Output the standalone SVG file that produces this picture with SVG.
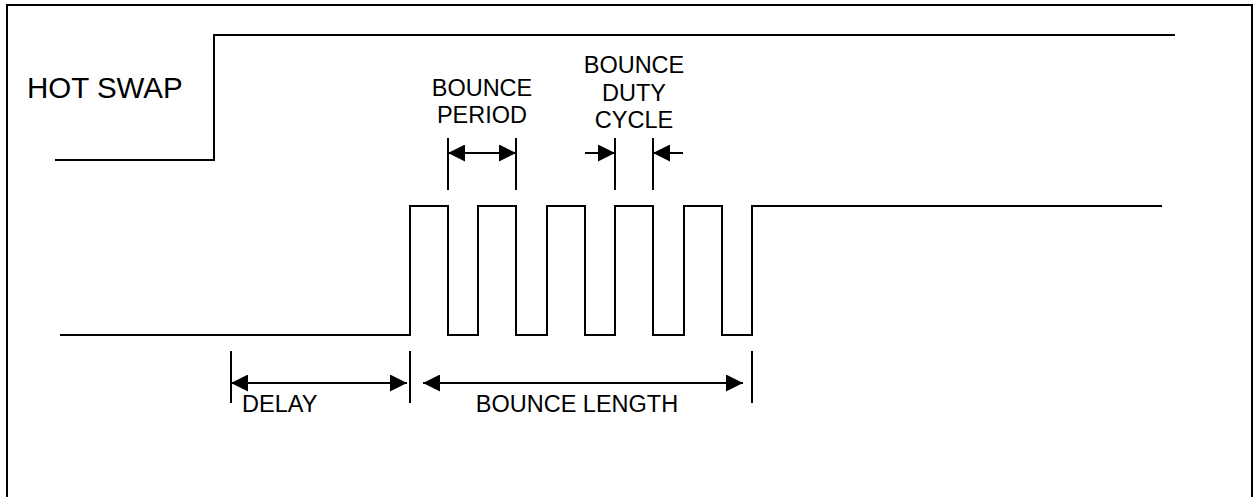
<svg xmlns="http://www.w3.org/2000/svg" width="1255" height="497" viewBox="0 0 1255 497">
  <style>
    .sig { fill: none; stroke: #000; stroke-width: 2; stroke-linejoin: miter; }
    .ext { fill: none; stroke: #000; stroke-width: 2; }
    .dim { fill: none; stroke: #000; stroke-width: 2; }
    .lbl { font-family: "Liberation Sans", Arial, sans-serif; font-size: 23.5px; fill: #000; }
    .big { font-family: "Liberation Sans", Arial, sans-serif; font-size: 29.5px; fill: #000; }
  </style>
  <defs>
    <marker id="ah" markerUnits="userSpaceOnUse" markerWidth="17" markerHeight="17" viewBox="0 0 16 16" refX="16" refY="8" orient="auto-start-reverse">
      <path d="M0,0 L16,8 L0,16 z" fill="#000"/>
    </marker>
  </defs>
  <rect x="0" y="0" width="1255" height="497" fill="#fff"/>
  <rect id="frame" x="7" y="5" width="1245" height="500" fill="none" stroke="#000" stroke-width="2"/>

  <g id="hot-swap">
    <path class="sig" d="M55,160 H214 V35 H1175"/>
    <text class="big" x="27" y="98">HOT SWAP</text>
  </g>

  <g id="bounce-signal">
    <path class="sig" d="M60,335 H410 V206 H448 V335 H478 V206 H516 V335 H547 V206 H585 V335 H615 V206 H653 V335 H684 V206 H722 V335 H752 V206 H1162"/>
  </g>

  <g id="bounce-period">
    <text class="lbl" x="482" y="96" text-anchor="middle">BOUNCE</text>
    <text class="lbl" x="482" y="123" text-anchor="middle">PERIOD</text>
  </g>

  <g id="bounce-duty-cycle">
    <text class="lbl" x="634" y="73" text-anchor="middle">BOUNCE</text>
    <text class="lbl" x="634" y="101" text-anchor="middle">DUTY</text>
    <text class="lbl" x="634" y="128" text-anchor="middle">CYCLE</text>
  </g>

  <g id="delay">
    <text class="lbl" x="242" y="412">DELAY</text>
  </g>

  <g id="bounce-length">
    <text class="lbl" x="577" y="412" text-anchor="middle">BOUNCE LENGTH</text>
  </g>

  <g id="connectors">
    <line class="ext" x1="448" y1="138" x2="448" y2="190"/>
    <line class="ext" x1="516" y1="138" x2="516" y2="190"/>
    <line class="dim" x1="448" y1="153" x2="516" y2="153" marker-start="url(#ah)" marker-end="url(#ah)"/>

    <line class="ext" x1="615" y1="138" x2="615" y2="190"/>
    <line class="ext" x1="653" y1="138" x2="653" y2="190"/>
    <line class="dim" x1="585" y1="153" x2="615" y2="153" marker-end="url(#ah)"/>
    <line class="dim" x1="683" y1="153" x2="653" y2="153" marker-end="url(#ah)"/>

    <line class="ext" x1="231" y1="351" x2="231" y2="403"/>
    <line class="ext" x1="410" y1="351" x2="410" y2="403"/>
    <line class="ext" x1="752" y1="351" x2="752" y2="403"/>
    <line class="dim" x1="231" y1="383" x2="407" y2="383" marker-start="url(#ah)" marker-end="url(#ah)"/>
    <line class="dim" x1="423" y1="383" x2="743" y2="383" marker-start="url(#ah)" marker-end="url(#ah)"/>
  </g>
</svg>
